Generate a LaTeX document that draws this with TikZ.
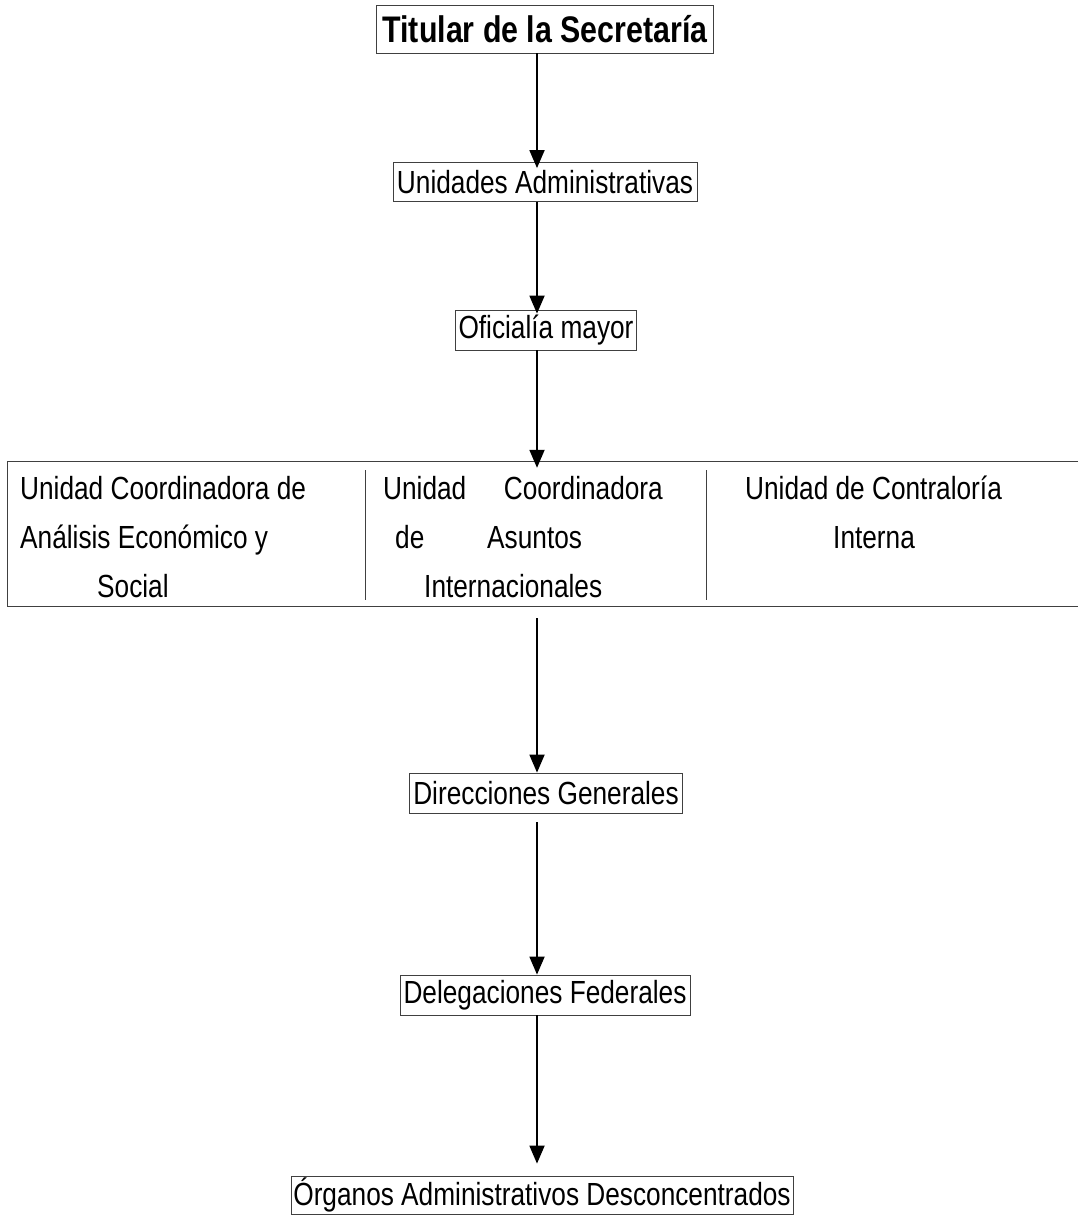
\documentclass[tikz,border=0pt]{standalone}
\usepackage{fontspec}
\setmainfont{Liberation Sans}
\newfontfamily\narrow[FakeStretch=0.82]{Liberation Sans}
\usetikzlibrary{arrows.meta}
\begin{document}
\begin{tikzpicture}[x=1pt,y=-1pt,
  frame/.style={draw=black!75, line width=0.8pt},
  box/.style={frame, inner sep=0pt, font=\narrow\fontsize{32}{38}\selectfont},
  arr/.style={line width=1.8pt, -{Triangle[length=18pt,width=15pt]}},
  celltxt/.style={anchor=base west, inner sep=0pt, font=\narrow\fontsize{32}{38}\selectfont}]
\useasboundingbox[fill=white] (0,0) rectangle (1078,1217);
\coordinate (ax) at (537,0);
% boxes
\node[box, minimum width=337pt, minimum height=48pt,
      font=\narrow\bfseries\fontsize{37}{44}\selectfont] (tit) at (545,29) {Titular de la Secretaría};
\node[box, minimum width=304pt, minimum height=39pt] (uni) at (545,182) {Unidades Administrativas};
\node[box, minimum width=181pt, minimum height=40pt] (ofi) at (546,330) {Oficialía mayor};
\node[inner sep=0pt, minimum width=1070pt, minimum height=144pt] (ucs) at (543,534) {};
\draw[frame] (ucs.north east) -- (ucs.north west) -- (ucs.south west) -- (ucs.south east);
\draw[frame] (365,470) -- (365,600);
\draw[frame] (706,470) -- (706,600);
% cell texts
\node[celltxt] (c1a) at (20,499) {Unidad Coordinadora de};
\node[celltxt] (c1b) at (20,548) {Análisis Económico y};
\node[celltxt] (c1c) at (97,597) {Social};
\node[celltxt] (c2a) at (383,499) {Unidad};
\node[celltxt, anchor=base east] (c2b) at (663,499) {Coordinadora};
\node[celltxt] (c2c) at (395,548) {de};
\node[celltxt] (c2d) at (487,548) {Asuntos};
\node[celltxt] (c2e) at (424,597) {Internacionales};
\node[celltxt] (c3a) at (745,499) {Unidad de Contraloría};
\node[celltxt] (c3b) at (833,548) {Interna};
% lower boxes
\node[box, minimum width=273pt, minimum height=40pt] (dir) at (546,793) {Direcciones Generales};
\node[box, minimum width=290pt, minimum height=40pt] (del) at (545,995) {Delegaciones Federales};
\node[box, minimum width=502pt, minimum height=38pt] (org) at (542,1195) {Órganos Administrativos Desconcentrados};
% arrows
\draw[arr, shorten >=-6pt] (tit.south -| ax) -- (uni.north -| ax);
\draw[arr, shorten >=-4pt] (uni.south -| ax) -- (ofi.north -| ax);
\draw[arr, shorten >=-6pt] (ofi.south -| ax) -- (ucs.north -| ax);
\draw[arr, shorten <=12pt] (ucs.south -| ax) -- (dir.north -| ax);
\draw[arr, shorten <=9pt] (dir.south -| ax) -- (del.north -| ax);
\draw[arr, shorten >=12pt] (del.south -| ax) -- (org.north -| ax);
\end{tikzpicture}
\end{document}
